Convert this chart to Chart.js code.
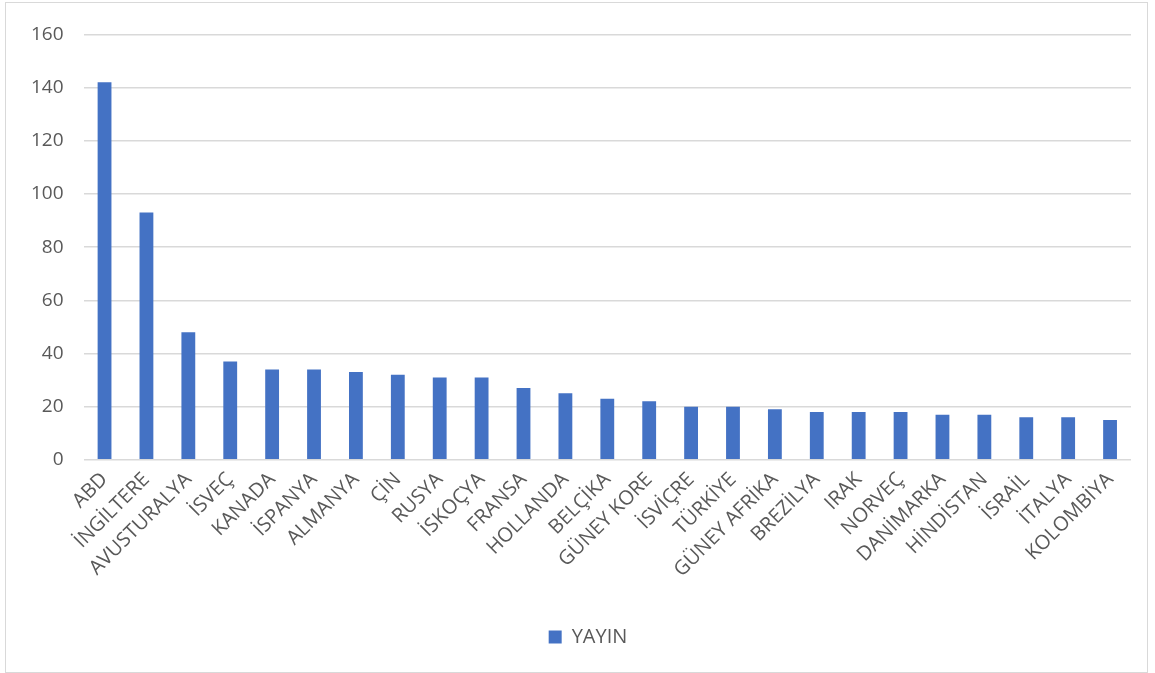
<!DOCTYPE html>
<html>
<head>
<meta charset="utf-8">
<script src="https://cdn.jsdelivr.net/npm/chart.js@4"></script>
<style>
  html, body { margin: 0; padding: 0; background: #fff; }
  #wrap { position: absolute; left: 5px; top: 2px; width: 1143px; height: 671px; border: 1px solid #d9d9d9; box-sizing: border-box; }
</style>
</head>
<body>
<div id="wrap"><canvas id="bar-chart"></canvas></div>
<script>
// Datos
const ulkeler = ['ABD', 'İNGİLTERE', 'AVUSTURALYA', 'İSVEÇ', 'KANADA', 'İSPANYA', 'ALMANYA', 'ÇİN', 'RUSYA', 'İSKOÇYA',
  'FRANSA', 'HOLLANDA', 'BELÇİKA', 'GÜNEY KORE', 'İSVİÇRE', 'TÜRKİYE', 'GÜNEY AFRİKA', 'BREZİLYA', 'IRAK', 'NORVEÇ',
  'DANİMARKA', 'HİNDİSTAN', 'İSRAİL', 'İTALYA', 'KOLOMBİYA'];
const yayin = [142, 93, 48, 37, 34, 34, 33, 32, 31, 31, 27, 25, 23, 22, 20, 20, 19, 18, 18, 18, 17, 17, 16, 16, 15];
const yTicks = [0, 20, 40, 60, 80, 100, 120, 140, 160];

const ctx = document.getElementById('bar-chart').getContext('2d');
const fontFam = '"Open Sans", "Noto Sans", sans-serif';

// mover la leyenda un poco a la derecha
const legendShift = {
  id: 'legendShift',
  afterLayout(chart) {
    chart.legend.left += 17;
    chart.legend.right += 17;
  },
};

new Chart(ctx, {
  type: 'bar',
  data: {
    labels: ulkeler,
    datasets: [
      {
        label: 'YAYIN',
        data: yayin,
        backgroundColor: '#4472c4',
        barPercentage: 0.66,
        categoryPercentage: 0.5,
      },
    ],
  },
  options: {
    responsive: true,
    maintainAspectRatio: false,
    animation: false,
    layout: { padding: { left: 5, right: 16, top: 12, bottom: 15 } },
    plugins: {
      tooltip: { enabled: false },
      legend: {
        position: 'bottom',
        labels: {
          boxWidth: 13,
          boxHeight: 13,
          padding: 45,
          color: '#595959',
          font: { family: fontFam, size: 20 },
        },
      },
    },
    scales: {
      x: {
        grid: { display: false },
        border: { display: false },
        ticks: {
          color: '#595959',
          font: { family: fontFam, size: 20 },
          maxRotation: 45,
          minRotation: 45,
          autoSkip: false,
          padding: 0,
        },
      },
      y: {
        min: 0,
        max: yTicks[yTicks.length - 1],
        afterBuildTicks: (axis) => { axis.ticks = yTicks.map(v => ({ value: v })); },
        grid: { color: '#d9d9d9', lineWidth: 1.5, drawTicks: false },
        border: { display: false },
        ticks: {
          color: '#595959',
          font: { family: fontFam, size: 19 },
          padding: 20,
        },
      },
    },
  },
  plugins: [legendShift],
});
</script>
</body>
</html>
